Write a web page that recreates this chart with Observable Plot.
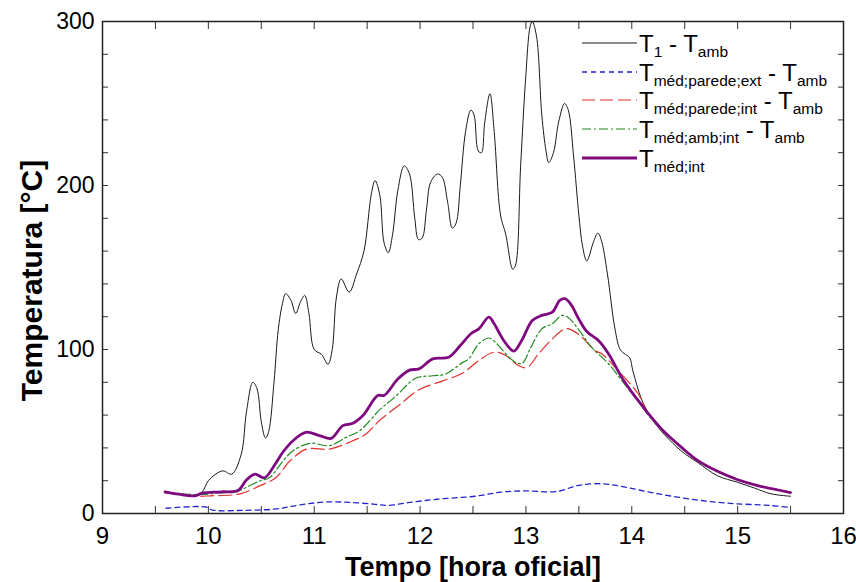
<!DOCTYPE html>
<html>
<head>
<meta charset="utf-8">
<script src="https://cdn.jsdelivr.net/npm/d3@7"></script>
<script src="https://cdn.jsdelivr.net/npm/@observablehq/plot@0.6"></script>
<style>
  html, body { margin: 0; padding: 0; background: #fff; }
  #chart svg { display: block; }
</style>
</head>
<body>
<div id="chart"></div>
<script>
// T1 - Tamb (black)
const t1Time = [9.59, 9.7, 9.8, 9.875, 9.94, 10.0, 10.07, 10.14, 10.22, 10.31, 10.36, 10.42, 10.46, 10.5, 10.54, 10.57, 10.62, 10.66, 10.7, 10.73, 10.78, 10.825, 10.87, 10.91, 10.95, 11.0, 11.07, 11.13, 11.17, 11.21, 11.255, 11.33, 11.4, 11.47, 11.54, 11.575, 11.62, 11.66, 11.7, 11.74, 11.79, 11.85, 11.9, 11.95, 11.985, 12.02, 12.06, 12.1, 12.165, 12.21, 12.26, 12.305, 12.34, 12.38, 12.43, 12.48, 12.51, 12.55, 12.58, 12.61, 12.66, 12.7, 12.76, 12.81, 12.875, 12.9, 12.95, 12.995, 13.04, 13.06, 13.1, 13.15, 13.19, 13.215, 13.26, 13.31, 13.365, 13.4, 13.45, 13.5, 13.535, 13.575, 13.64, 13.68, 13.715, 13.77, 13.84, 13.89, 13.94, 13.98, 14.01, 14.09, 14.15, 14.22, 14.31, 14.47, 14.625, 14.81, 15.0, 15.16, 15.315, 15.5];
const t1Value = [13, 12, 11, 10.5, 13, 20, 24, 26, 24, 36, 62, 80, 76, 56, 46, 50, 80, 112, 128, 134, 130, 122, 129, 133, 122, 100, 97, 91, 100, 132, 143, 135, 146, 160, 195, 203, 194, 165, 159, 170, 197, 212, 207, 180, 167, 168, 185, 202, 207, 205, 190, 174, 177, 200, 233, 246, 243, 221, 220, 238, 256, 233, 182, 170, 149, 151, 212, 263, 297, 300, 291, 243, 221, 214, 220, 239, 250, 246, 218, 182, 163, 154, 166, 171, 166, 146, 113, 100, 97, 95, 87, 70, 62, 55, 48, 38, 31, 23, 19, 15.5, 12, 10.5];

// Tméd;parede;ext - Tamb (blue)
const extTime = [9.6, 9.97, 10.04, 10.32, 10.64, 10.87, 11.1, 11.33, 11.56, 11.7, 11.885, 12.16, 12.53, 12.76, 12.99, 13.29, 13.5, 13.73, 13.91, 14.24, 14.61, 14.93, 15.3, 15.5];
const extValue = [3.2, 4.0, 2.1, 1.9, 2.8, 5.3, 7.0, 6.8, 5.7, 4.9, 6.6, 8.7, 10.6, 13.0, 13.8, 13.4, 17.2, 18.1, 16.4, 12.1, 8.3, 6.2, 4.9, 3.7];

// Tméd;parede;int - Tamb (red)
const wallTime = [9.59, 9.75, 9.9, 10.02, 10.3, 10.49, 10.64, 10.77, 10.93, 11.145, 11.33, 11.49, 11.615, 11.8, 11.99, 12.22, 12.4, 12.555, 12.7, 12.81, 12.93, 13.01, 13.12, 13.25, 13.37, 13.43, 13.53, 13.65, 13.715, 13.87, 14.06, 14.155, 14.28, 14.47, 14.625, 14.81, 15.0, 15.19, 15.5];
const wallValue = [12.5, 11.5, 10.5, 10.8, 12, 17, 22, 32, 39.3, 39.3, 43.4, 48.5, 56.6, 66, 75.5, 81, 85.5, 93.3, 98.4, 96.3, 90.2, 89, 97.4, 106.5, 112.6, 112, 107.5, 99.4, 97.4, 87.2, 73, 61, 52, 40.5, 32.5, 26, 21, 17.2, 13];

// Tméd;amb;int - Tamb (green)
const airTime = [9.59, 9.75, 9.9, 10.1, 10.27, 10.36, 10.49, 10.58, 10.705, 10.8, 10.96, 11.145, 11.3, 11.43, 11.615, 11.77, 11.96, 12.12, 12.24, 12.4, 12.46, 12.555, 12.65, 12.71, 12.81, 12.9, 12.965, 13.04, 13.15, 13.25, 13.34, 13.4, 13.5, 13.62, 13.78, 13.93, 14.09, 14.155, 14.28, 14.47, 14.625, 14.81, 15.0, 15.19, 15.5];
const airValue = [13, 12, 11.5, 12.5, 13.5, 16, 20, 22, 32, 38.3, 42.8, 41.4, 46.4, 50.5, 63, 71.5, 82.5, 84, 85, 92, 94.3, 103.5, 107, 104.5, 97.4, 92.2, 91.6, 100.4, 112.6, 115.7, 120.8, 119.5, 112, 101.4, 91.3, 79, 66, 60, 51, 40, 32, 25.5, 20.5, 17, 12.8];

// Tméd;int (purple)
const intTime = [9.59, 9.72, 9.875, 9.94, 10.125, 10.28, 10.36, 10.44, 10.53, 10.63, 10.705, 10.8, 10.92, 11.05, 11.16, 11.27, 11.365, 11.46, 11.6, 11.66, 11.79, 11.9, 11.99, 12.12, 12.27, 12.38, 12.48, 12.555, 12.65, 12.7, 12.79, 12.885, 12.96, 13.06, 13.15, 13.25, 13.32, 13.37, 13.43, 13.5, 13.575, 13.685, 13.78, 13.905, 14.0, 14.06, 14.155, 14.28, 14.47, 14.625, 14.81, 15.0, 15.19, 15.5];
const intValue = [13.2, 11.8, 10.8, 12.4, 13.2, 14, 20.4, 24, 21.8, 30, 37.5, 44.4, 49.5, 47.5, 45.8, 53.6, 55, 59.7, 71.9, 72, 82, 87.4, 88.2, 94.3, 95.3, 102.4, 109.6, 112.6, 119.7, 115.7, 105.5, 99, 105.5, 117.7, 120.8, 122.8, 130, 131, 127, 118.5, 111, 105.5, 97.4, 83, 74, 69, 61, 51.6, 40.3, 32.2, 25.7, 20.6, 17, 12.8];

// Axis ticks and labels
const xLabelTicks = [9, 10, 11, 12, 13, 14, 15, 16];
const xMarkTicks = [9.5, 10, 10.5, 11, 11.5, 12, 12.5, 13, 13.5, 14, 14.5, 15, 15.5];
const yLabelTicks = [0, 100, 200, 300];
const yMarkTicks = [20, 40, 60, 80, 100, 120, 140, 160, 180, 200, 220, 240, 260, 280];

const xTitle = "Tempo [hora oficial]";
const yTitle = "Temperatura [°C]";

const zip = (ts, vs) => ts.map((t, i) => ({t, v: vs[i]}));

const series = [
  {key: "t1", data: zip(t1Time, t1Value), stroke: "#1a1a1a", width: 1, dash: null},
  {key: "ext", data: zip(extTime, extValue), stroke: "#2323d0", width: 1.3, dash: "5,4"},
  {key: "wall", data: zip(wallTime, wallValue), stroke: "#e2302b", width: 1.2, dash: "13,5"},
  {key: "air", data: zip(airTime, airValue), stroke: "#1f8a1f", width: 1.2, dash: "9,3,2,3"},
  {key: "int", data: zip(intTime, intValue), stroke: "#7f0a80", width: 2.8, dash: null}
];

const FONT = "'Liberation Sans', Arial, Helvetica, sans-serif";
const blank = () => "";

const plot = Plot.plot({
  width: 856,
  height: 582,
  marginLeft: 102,
  marginRight: 13,
  marginTop: 21,
  marginBottom: 69,
  style: {fontFamily: FONT, background: "#fff", color: "#000"},
  x: {domain: [9, 16]},
  y: {domain: [0, 300]},
  marks: [
    ...series.map(s => Plot.line(s.data, {
      x: "t", y: "v", curve: "catmull-rom",
      stroke: s.stroke, strokeWidth: s.width,
      strokeDasharray: s.dash, strokeLinejoin: "round"
    })),
    // inward tick marks on all four sides
    Plot.axisX({anchor: "bottom", ticks: xMarkTicks, tickSize: -7, tickFormat: blank, label: null, stroke: "#333"}),
    Plot.axisX({anchor: "top", ticks: xMarkTicks, tickSize: -7, tickFormat: blank, label: null, stroke: "#333"}),
    Plot.axisY({anchor: "left", ticks: yMarkTicks, tickSize: -6, tickFormat: blank, label: null, stroke: "#333"}),
    Plot.axisY({anchor: "right", ticks: yMarkTicks, tickSize: -6, tickFormat: blank, label: null, stroke: "#333"}),
    // tick labels
    Plot.axisX({anchor: "bottom", ticks: xLabelTicks, tickSize: 0, tickPadding: 13, fontSize: 24, label: null, tickFormat: d3.format("d")}),
    Plot.axisY({anchor: "left", ticks: yLabelTicks, tickSize: 0, tickPadding: 8, fontSize: 23, label: null, tickFormat: d3.format("d")}),
    // axis titles
    Plot.text([xTitle], {frameAnchor: "bottom", lineAnchor: "middle", dy: 54, text: d => d, fontSize: 27, fontWeight: "bold", fill: "#000"}),
    Plot.text([yTitle], {frameAnchor: "left", dx: -70, dy: 13, rotate: -90, textAnchor: "middle", text: d => d, fontSize: 30, fontWeight: "bold", fill: "#000"}),
    Plot.frame({stroke: "#222", strokeWidth: 1.5})
  ]
});

document.getElementById("chart").appendChild(plot);

// Legend with subscripted labels
const legendItems = [
  {stroke: "#1a1a1a", width: 1, dash: null, parts: [["T", 0], ["1", 1], [" - T", 0], ["amb", 1]]},
  {stroke: "#2323d0", width: 1.3, dash: "5,4", parts: [["T", 0], ["méd;parede;ext", 1], [" - T", 0], ["amb", 1]]},
  {stroke: "#e2302b", width: 1.2, dash: "13,5", parts: [["T", 0], ["méd;parede;int", 1], [" - T", 0], ["amb", 1]]},
  {stroke: "#1f8a1f", width: 1.2, dash: "9,3,2,3", parts: [["T", 0], ["méd;amb;int", 1], [" - T", 0], ["amb", 1]]},
  {stroke: "#7f0a80", width: 2.8, dash: null, parts: [["T", 0], ["méd;int", 1]]}
];
const legendRows = [43, 72, 100, 129, 158];

const svg = d3.select(plot);
const g = svg.append("g").attr("class", "legend").attr("font-family", FONT).attr("text-anchor", "start");
legendItems.forEach((item, i) => {
  const y = legendRows[i];
  g.append("line")
    .attr("x1", 582).attr("x2", 637).attr("y1", y).attr("y2", y)
    .attr("stroke", item.stroke).attr("stroke-width", item.width)
    .attr("stroke-dasharray", item.dash);
  const text = g.append("text").attr("x", 639).attr("y", y + 9).attr("font-size", 24).attr("fill", "#000");
  let level = 0;
  item.parts.forEach(([str, sub]) => {
    const dy = (sub - level) * 5;
    level = sub;
    text.append("tspan").attr("dy", dy).attr("font-size", sub ? 15.5 : 24).text(str);
  });
});
</script>
</body>
</html>
